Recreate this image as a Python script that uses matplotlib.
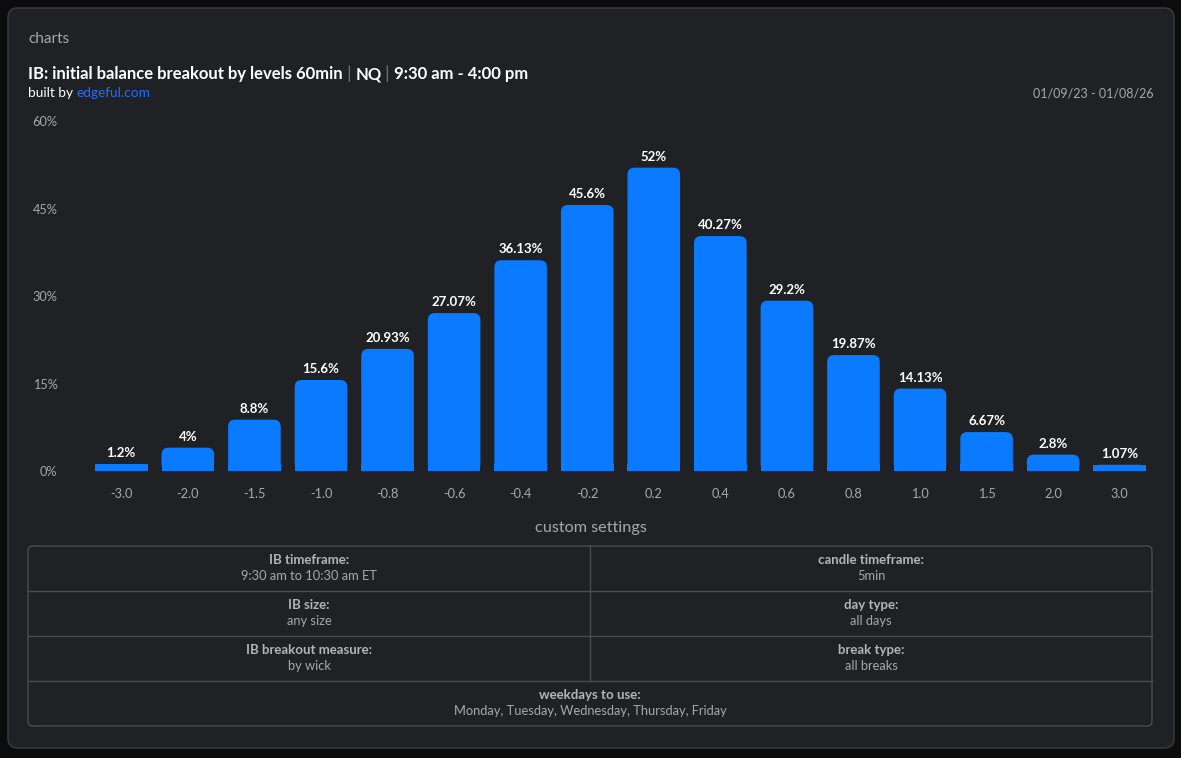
import matplotlib
matplotlib.use("Agg")
import matplotlib.pyplot as plt
from matplotlib.patches import FancyBboxPatch, Rectangle
from matplotlib.lines import Line2D

# data
levels = ["-3.0", "-2.0", "-1.5", "-1.0", "-0.8", "-0.6", "-0.4", "-0.2",
          "0.2", "0.4", "0.6", "0.8", "1.0", "1.5", "2.0", "3.0"]
pct = [1.2, 4, 8.8, 15.6, 20.93, 27.07, 36.13, 45.6,
       52, 40.27, 29.2, 19.87, 14.13, 6.67, 2.8, 1.07]
y_ticks = [0, 15, 30, 45, 60]

settings = [
    [("IB timeframe:", "9:30 am to 10:30 am ET"), ("candle timeframe:", "5min")],
    [("IB size:", "any size"), ("day type:", "all days")],
    [("IB breakout measure:", "by wick"), ("break type:", "all breaks")],
    [("weekdays to use:", "Monday, Tuesday, Wednesday, Thursday, Friday")],
]

title_parts = ["IB: initial balance breakout by levels 60min", "NQ", "9:30 am - 4:00 pm"]
date_range = "01/09/23 - 01/08/26"

# styles
W, H = 1181, 758
OUTER = "#0c0c0e"
CARD = "#202124"
BORDER = "#3c3d40"
BLUE = "#0a7aff"
GRAY = "#a8a8aa"
plt.rcParams["font.family"] = ["Lato", "DejaVu Sans"]

fig = plt.figure(figsize=(W / 100, H / 100), dpi=100, facecolor=OUTER)


def fx(px):
    return px / W


def fy(py):
    return 1 - py / H


# card
card = FancyBboxPatch((fx(8), fy(748)), fx(1174) - fx(8), fy(8) - fy(748),
                      boxstyle="round,pad=0,rounding_size=0.008",
                      transform=fig.transFigure, facecolor=CARD,
                      edgecolor=BORDER, linewidth=1.0, mutation_aspect=W / H,
                      zorder=-5)
fig.patches.append(card)

fig.text(fx(28), fy(39), "charts", color=GRAY, fontsize=11, va="center")

# title with gray separators
x = fx(28)
r = fig.canvas.get_renderer()
for i, part in enumerate(title_parts):
    if i > 0:
        t = fig.text(x, fy(74), " | ", color="#7a7a7c", fontsize=12, va="center")
        x += t.get_window_extent(r).width / W
    t = fig.text(x, fy(74), part, color="white", fontsize=12, fontweight="bold", va="center")
    x += t.get_window_extent(r).width / W

t = fig.text(fx(28), fy(93), "built by ", color="white", fontsize=9.8, va="center")
fig.text(fx(28) + t.get_window_extent(r).width / W, fy(93), "edgeful.com",
         color="#1f6fff", fontsize=9.8, va="center")
fig.text(fx(1154), fy(93), date_range, color=GRAY, fontsize=9, va="center", ha="right")

# bar chart
ax = fig.add_axes([fx(88), fy(471), fx(1153) - fx(88), fy(121) - fy(471)])
ax.set_zorder(2)
ax.set_facecolor("none")
xs = list(range(len(levels)))
bars = ax.bar(xs, pct, width=0.79, color=BLUE)
ax.set_xlim(-0.5, len(levels) - 0.5)
ax.set_ylim(0, 60)

# replace plain bars with top-rounded ones
px_x = 1 / 66.6
px_y = 60 / 350
rad_px = 7
for b in bars:
    b.set_visible(False)
    x0, w, h = b.get_x(), b.get_width(), b.get_height()
    ax.add_patch(FancyBboxPatch((x0, 0), w, h,
                                boxstyle=f"round,pad=0,rounding_size={rad_px * px_x}",
                                mutation_aspect=px_y / px_x,
                                facecolor=BLUE, edgecolor="none"))
    ax.add_patch(Rectangle((x0, 0), w, min(h, rad_px * px_y), facecolor=BLUE, edgecolor="none"))

for xi, v in zip(xs, pct):
    ax.annotate(f"{v:g}%", (xi, v), xytext=(0, 3.5), textcoords="offset points",
                ha="center", va="bottom", color="white", fontsize=9.5, fontweight="bold")

ax.set_xticks(xs)
ax.set_xticklabels(levels)
ax.set_yticks(y_ticks)
ax.set_yticklabels([f"{v}%" for v in y_ticks])
ax.tick_params(colors=GRAY, labelsize=9.2, length=0)
ax.tick_params(axis="x", pad=12.5)
ax.tick_params(axis="y", pad=22)
for s in ax.spines.values():
    s.set_visible(False)

# custom settings table
fig.text(fx(591), fy(528), "custom settings", color=GRAY, fontsize=11.7, ha="center", va="center")

tl, tr, tt, row_h = 28, 1152, 546, 45
tb = tt + row_h * len(settings)
tab = FancyBboxPatch((fx(tl), fy(tb)), fx(tr) - fx(tl), fy(tt) - fy(tb),
                     boxstyle="round,pad=0,rounding_size=0.004",
                     transform=fig.transFigure, facecolor="none",
                     edgecolor="#4a4b4e", linewidth=1.0, mutation_aspect=W / H)
fig.patches.append(tab)
mid = (tl + tr) / 2
for i, row in enumerate(settings):
    top = tt + i * row_h
    if i > 0:
        fig.lines.append(Line2D([fx(tl), fx(tr)], [fy(top), fy(top)],
                                transform=fig.transFigure, color="#4a4b4e", lw=1.0))
    if len(row) == 2:
        fig.lines.append(Line2D([fx(mid), fx(mid)], [fy(top), fy(top + row_h)],
                                transform=fig.transFigure, color="#4a4b4e", lw=1.0))
    cw = (tr - tl) / len(row)
    for j, (head, val) in enumerate(row):
        cx = tl + cw * (j + 0.5)
        fig.text(fx(cx), fy(top + 14), head, color="#b4b4b6", fontsize=9.5,
                 fontweight="bold", ha="center", va="center")
        fig.text(fx(cx), fy(top + 30), val, color=GRAY, fontsize=9.3,
                 ha="center", va="center")

fig.savefig("out.png", dpi=100, facecolor=OUTER)
